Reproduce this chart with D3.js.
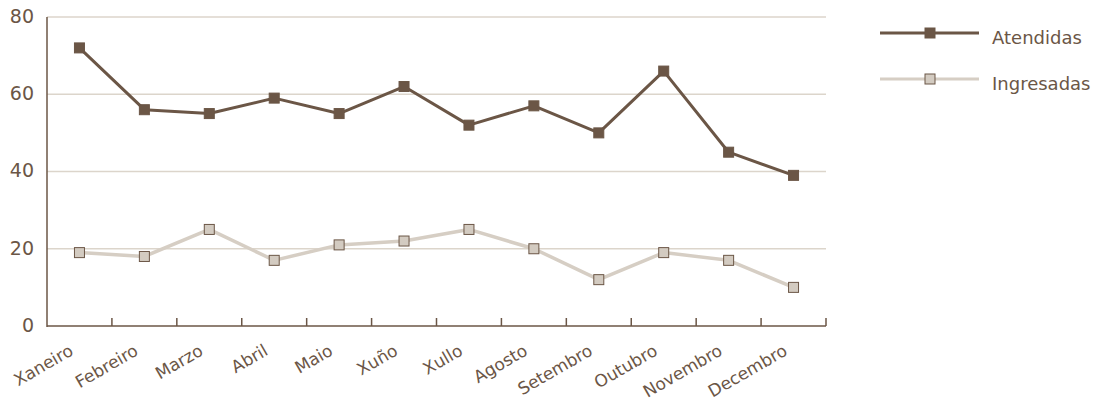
<!DOCTYPE html>
<html><head><meta charset="utf-8">
<script src="https://cdn.jsdelivr.net/npm/d3@7"></script>
<style>body{margin:0;background:#fff}svg{display:block}text{font-family:"DejaVu Sans",sans-serif;fill:#6b5646}</style>
</head><body><svg id="c" width="1095" height="403"></svg>
<script>
const months = ["Xaneiro","Febreiro","Marzo","Abril","Maio","Xuño","Xullo","Agosto","Setembro","Outubro","Novembro","Decembro"];
const atendidas = [72,56,55,59,55,62,52,57,50,66,45,39];
const ingresadas = [19,18,25,17,21,22,25,20,12,19,17,10];
const yTicks = [0,20,40,60,80];
const seriesNames = ["Atendidas","Ingresadas"];

const dark = "#6b5646", light = "#d6cec4", grid = "#dcd5cb";
const svg = d3.select("#c");
const L = 47, R = 826, T = 17, B = 326;
const x = d3.scaleBand().domain(months).range([L, R]);
const y = d3.scaleLinear().domain([0, 80]).range([B, T]);

// gridlines
svg.append("g").selectAll("line").data(yTicks.filter(d => d > 0)).join("line")
  .attr("x1", L).attr("x2", R).attr("y1", d => y(d)).attr("y2", d => y(d))
  .attr("stroke", grid).attr("stroke-width", 1.5);

// y labels
svg.append("g").selectAll("text").data(yTicks).join("text")
  .attr("x", 34).attr("y", d => y(d) - 1).attr("dy", "0.36em")
  .attr("text-anchor", "end").attr("font-size", 19).text(d => d);

// axes lines
svg.append("line").attr("x1", L).attr("x2", L).attr("y1", T).attr("y2", B + 1)
  .attr("stroke", dark).attr("stroke-width", 1.5);
svg.append("line").attr("x1", L).attr("x2", R).attr("y1", B).attr("y2", B)
  .attr("stroke", dark).attr("stroke-width", 1.5);
// ticks at band boundaries
const bounds = months.map(m => x(m) + x.bandwidth());
svg.append("g").selectAll("line").data(bounds).join("line")
  .attr("x1", d => d).attr("x2", d => d).attr("y1", B).attr("y2", B - 8)
  .attr("stroke", dark).attr("stroke-width", 1.5);

// x labels
svg.append("g").selectAll("text").data(months).join("text")
  .attr("transform", d => `translate(${x(d) + x.bandwidth() / 2 - 5},${B + 28}) rotate(-30)`)
  .attr("text-anchor", "end").attr("font-size", 17).text(d => d);

const cx = d => x(d) + x.bandwidth() / 2;
function drawSeries(vals, lineColor, lw, fill, stroke) {
  const line = d3.line().x((d, i) => cx(months[i])).y(d => y(d));
  svg.append("path").datum(vals).attr("d", line).attr("fill", "none")
    .attr("stroke", lineColor).attr("stroke-width", lw).attr("stroke-linejoin", "round");
  svg.append("g").selectAll("rect").data(vals).join("rect")
    .attr("x", (d, i) => cx(months[i]) - 5).attr("y", d => y(d) - 5)
    .attr("width", 10).attr("height", 10)
    .attr("fill", fill).attr("stroke", stroke).attr("stroke-width", 1);
}
drawSeries(ingresadas, light, 3.5, "#d3cbc1", dark);
drawSeries(atendidas, dark, 3, dark, dark);

// legend
const leg = [{n: seriesNames[0], c: dark, f: dark, yy: 33}, {n: seriesNames[1], c: light, f: "#d3cbc1", yy: 79}];
leg.forEach(l => {
  svg.append("line").attr("x1", 880).attr("x2", 979).attr("y1", l.yy).attr("y2", l.yy)
    .attr("stroke", l.c).attr("stroke-width", 3);
  svg.append("rect").attr("x", 925).attr("y", l.yy - 5).attr("width", 10).attr("height", 10)
    .attr("fill", l.f).attr("stroke", dark).attr("stroke-width", 1);
  svg.append("text").attr("x", 992).attr("y", l.yy + 11)
    .attr("font-size", 18).text(l.n);
});
</script></body></html>
